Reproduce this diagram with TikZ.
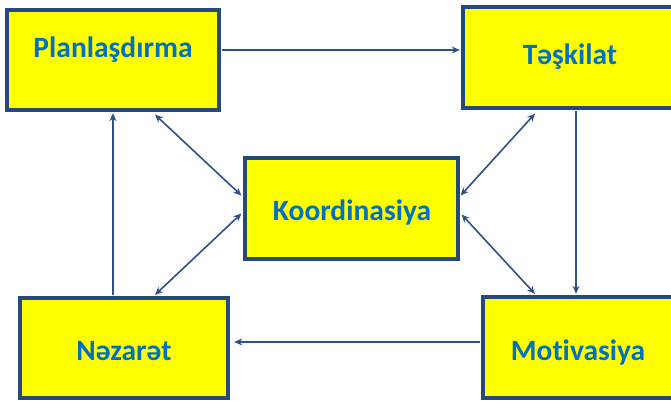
\documentclass[tikz,border=0pt]{standalone}
\usepackage{fontspec}
\setmainfont{Carlito}[Ligatures={NoCommon}]
\usetikzlibrary{arrows.meta,calc}
\definecolor{boxfill}{HTML}{FFFF00}
\definecolor{boxline}{HTML}{25497A}
\definecolor{txt}{HTML}{0070C0}
\definecolor{arrcol}{HTML}{2F5089}
\begin{document}
\begin{tikzpicture}[x=1pt,y=-1pt,
  box/.style={draw=boxline,line width=3.2pt,fill=boxfill,rectangle,inner sep=0pt,minimum width=212pt,minimum height=100pt},
  lbl/.style={text=txt,font=\fontsize{29.5}{32}\selectfont\bfseries,inner sep=0pt},
  arr/.style={draw=arrcol,line width=1.6pt,-{Stealth[length=8pt,width=7pt]}},
  darr/.style={draw=arrcol,line width=1.6pt,{Stealth[length=8pt,width=7pt]}-{Stealth[length=8pt,width=7pt]}}]
\useasboundingbox (0,0) rectangle (671,401);
\clip (0,0) rectangle (671,401);
\fill[white] (0,0) rectangle (671,401);
% boxes
\node[box] (plan) at (113,60) {};
\node[box,minimum height=101pt] (task) at (569,57.5) {};
\node[box,minimum width=213pt,minimum height=101pt] (koor) at (351.5,208.5) {};
\node[box,minimum width=208pt] (naz) at (124,348) {};
\node[box,minimum height=101pt] (mot) at (589,347.5) {};
% labels
\node[lbl,anchor=base] (tplan) at (113,58) {Planlaşdırma};
\node[lbl,anchor=base] (ttask) at (570,65) {Təşkilat};
\node[lbl,anchor=base] (tkoor) at (352,220) {Koordinasiya};
\node[lbl,anchor=base] (tnaz) at (124,360) {Nəzarət};
\node[lbl,anchor=base] (tmot) at (578,360) {Mot\kern0pt ivasiya};
% cycle arrows
\draw[arr] ([xshift=1.6pt,yshift=10pt]plan.east) -- ([xshift=-1.6pt,yshift=7.5pt]task.west);
\draw[arr] ([xshift=7pt,yshift=-1.6pt]task.south) coordinate (t1) -- ([yshift=1.6pt]t1 |- mot.north);
\draw[arr,shorten >=3pt] ([xshift=-1.6pt,yshift=5.5pt]mot.west) coordinate (m1) -- ([xshift=1.6pt]m1 -| naz.east);
\draw[arr] ([xshift=-11pt,yshift=1.6pt]naz.north) coordinate (n1) -- ([yshift=-1.6pt]n1 |- plan.south);
% coordination arrows
\draw[darr] ([xshift=42pt,yshift=-3pt]plan.south) -- ([xshift=-2pt,yshift=13pt]koor.west);
\draw[darr] ([xshift=-2pt,yshift=-5pt]koor.west) -- ([xshift=31pt,yshift=1.5pt]naz.north);
\draw[darr] ([xshift=1pt,yshift=13pt]koor.east) -- ([xshift=-34pt,yshift=-4pt]task.south);
\draw[darr] ([xshift=2pt,yshift=-6pt]koor.east) -- ([xshift=-54pt,yshift=1.5pt]mot.north);
\end{tikzpicture}
\end{document}
